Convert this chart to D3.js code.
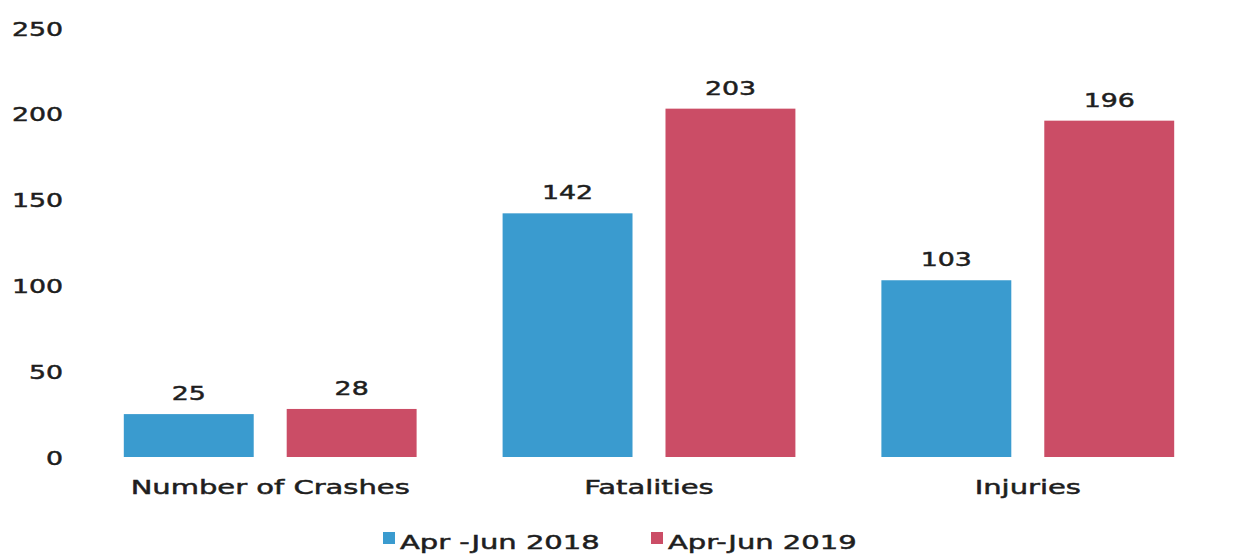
<!DOCTYPE html>
<html>
<head>
<meta charset="utf-8">
<script src="https://cdn.jsdelivr.net/npm/d3@7"></script>
<style>
  html, body { margin: 0; padding: 0; background: #ffffff; }
  svg { display: block; }
  text { font-family: "DejaVu Sans", Verdana, sans-serif; fill: #1e1e1e; stroke: #1e1e1e; stroke-width: 0.5px; }
</style>
</head>
<body>
<svg id="chart" width="1243" height="558"></svg>
<script>
const categories = ["Number of Crashes", "Fatalities", "Injuries"];
const seriesNames = ["Apr -Jun 2018", "Apr-Jun 2019"];
const values2018 = [25, 142, 103];
const values2019 = [28, 203, 196];
const yTicks = [0, 50, 100, 150, 200, 250];
const colors = ["#3a9bcf", "#cb4d66"];

const svg = d3.select("#chart");
const SX_NUM = 1.34;  // horizontal text stretch of numbers in the original
const SX_TXT = 1.45;  // horizontal text stretch of words in the original

const x0 = d3.scaleBand().domain(categories).range([81, 1217])
  .paddingInner(0.227).paddingOuter(0.113);
const x1 = d3.scaleBand().domain(seriesNames).range([0, x0.bandwidth()])
  .paddingInner(0.2025).paddingOuter(0);
const y = d3.scaleLinear().domain([0, 250]).range([457, 28]);

const seriesData = [values2018, values2019];

function stretchedText(g, x, yy, txt, size, anchor, sx) {
  return g.append("text")
    .attr("transform", `translate(${x},${yy}) scale(${sx},1)`)
    .attr("text-anchor", anchor || "middle")
    .attr("font-size", size)
    .text(txt);
}

// Y axis (labels only)
const yAxis = d3.axisLeft(y).tickValues(yTicks).tickSize(0).tickPadding(0);
const yg = svg.append("g").attr("transform", "translate(63,0)").call(yAxis);
yg.select(".domain").remove();
yg.selectAll(".tick text")
  .attr("font-size", 20)
  .attr("font-family", "DejaVu Sans, Verdana, sans-serif")
  .attr("fill", "#1e1e1e")
  .attr("dy", "0.35em")
  .attr("x", 0)
  .attr("transform", `scale(${SX_NUM},1)`);

// Bars
const groups = svg.append("g").selectAll("g")
  .data(categories)
  .join("g")
  .attr("transform", d => `translate(${x0(d)},0)`);

seriesNames.forEach((s, si) => {
  groups.append("rect")
    .attr("x", x1(s))
    .attr("y", (d, i) => y(seriesData[si][i]))
    .attr("width", x1.bandwidth())
    .attr("height", (d, i) => y(0) - y(seriesData[si][i]))
    .attr("fill", colors[si]);
  groups.each(function(d, i) {
    stretchedText(d3.select(this), x1(s) + x1.bandwidth() / 2,
      y(seriesData[si][i]) - 14, String(seriesData[si][i]), 20, "middle", SX_NUM);
  });
});

// Category labels
const catG = svg.append("g");
categories.forEach(c => {
  stretchedText(catG, x0(c) + x0.bandwidth() / 2, 494, c, 20, "middle", SX_TXT);
});

// Legend
const leg = svg.append("g");
const legItems = [{x: 383, name: seriesNames[0], c: colors[0]}, {x: 651, name: seriesNames[1], c: colors[1]}];
legItems.forEach(it => {
  leg.append("rect").attr("x", it.x).attr("y", 532).attr("width", 12).attr("height", 12).attr("fill", it.c);
  stretchedText(leg, it.x + 17, 549, it.name, 20, "start", SX_TXT);
});
</script>
</body>
</html>
